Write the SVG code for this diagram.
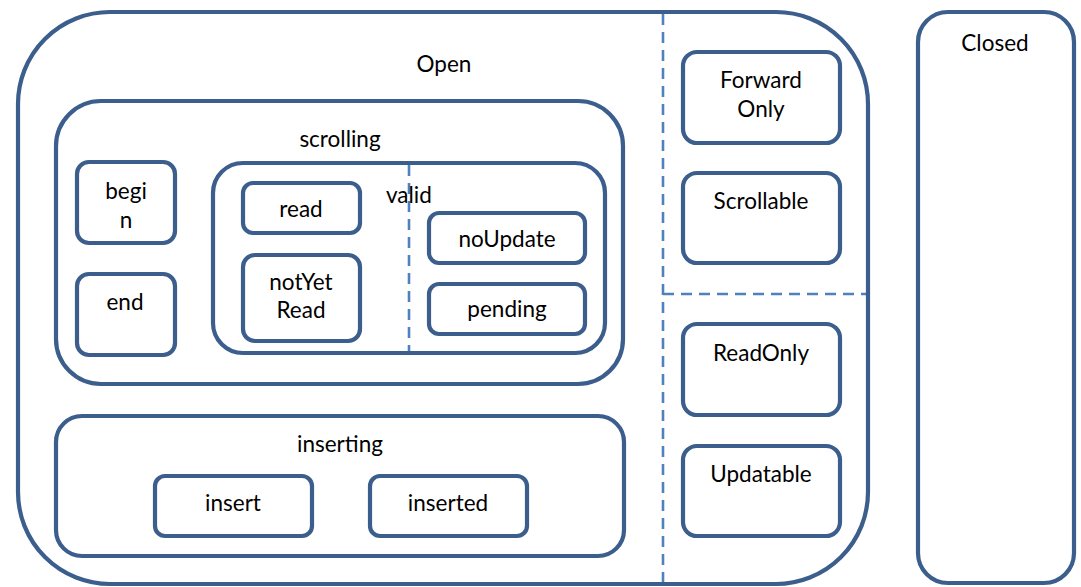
<svg xmlns="http://www.w3.org/2000/svg" width="1081" height="587" viewBox="0 0 1081 587">
  <style>
    .box { fill: none; stroke: #3B5E8C; stroke-width: 4.2; }
    .div { fill: none; stroke: #4F81BD; stroke-width: 2.6; stroke-dasharray: 11 7; }
    text { font-family: Lato, "Open Sans", "Liberation Sans", sans-serif; font-size: 22.5px; fill: #000; text-anchor: middle; }
  </style>
  <rect width="1081" height="587" fill="#fff"/>

  <!-- region dividers -->
  <g id="connectors">
    <line class="div" x1="663" y1="14" x2="663" y2="582"/>
    <line class="div" x1="663" y1="294" x2="866" y2="294"/>
    <line class="div" x1="409" y1="165" x2="409" y2="352"/>
  </g>

  <g id="open">
    <rect class="box" x="18" y="12" width="850" height="572" rx="92" ry="92"/>
    <text x="444" y="72">Open</text>
  </g>

  <g id="scrolling">
    <rect class="box" x="56" y="101" width="567" height="283" rx="45" ry="45"/>
    <text x="340" y="147">scrolling</text>
  </g>

  <g id="begin">
    <rect class="box" x="77" y="162" width="98" height="81" rx="12" ry="12"/>
    <text x="126" y="199">begi</text>
    <text x="126" y="228">n</text>
  </g>

  <g id="end">
    <rect class="box" x="77" y="274" width="98" height="81" rx="12" ry="12"/>
    <text x="125" y="310">end</text>
  </g>

  <g id="valid">
    <rect class="box" x="213" y="163" width="392" height="190" rx="30" ry="30"/>
    <text x="386" y="203" style="text-anchor:start">valid</text>
  </g>

  <g id="read">
    <rect class="box" x="243" y="183" width="117" height="50" rx="10" ry="10"/>
    <text x="301" y="217">read</text>
  </g>

  <g id="notYetRead">
    <rect class="box" x="243" y="255" width="117" height="86" rx="12" ry="12"/>
    <text x="301" y="290">notYet</text>
    <text x="301" y="318">Read</text>
  </g>

  <g id="noUpdate">
    <rect class="box" x="429" y="213" width="156" height="50" rx="10" ry="10"/>
    <text x="507" y="247">noUpdate</text>
  </g>

  <g id="pending">
    <rect class="box" x="429" y="284" width="156" height="50" rx="10" ry="10"/>
    <text x="507" y="317">pending</text>
  </g>

  <g id="inserting">
    <rect class="box" x="56" y="416" width="568" height="140" rx="26" ry="26"/>
    <text x="340" y="452">inserting</text>
  </g>

  <g id="insert">
    <rect class="box" x="155" y="476" width="157" height="60" rx="10" ry="10"/>
    <text x="233" y="511">insert</text>
  </g>

  <g id="inserted">
    <rect class="box" x="370" y="476" width="157" height="60" rx="10" ry="10"/>
    <text x="448" y="511">inserted</text>
  </g>

  <g id="forwardOnly">
    <rect class="box" x="683" y="52" width="157" height="91" rx="14" ry="14"/>
    <text x="761" y="88">Forward</text>
    <text x="761" y="117">Only</text>
  </g>

  <g id="scrollable">
    <rect class="box" x="683" y="173" width="157" height="90" rx="14" ry="14"/>
    <text x="761" y="209">Scrollable</text>
  </g>

  <g id="readOnly">
    <rect class="box" x="683" y="324" width="157" height="91" rx="14" ry="14"/>
    <text x="761" y="361">ReadOnly</text>
  </g>

  <g id="updatable">
    <rect class="box" x="683" y="446" width="157" height="90" rx="14" ry="14"/>
    <text x="761" y="482">Updatable</text>
  </g>

  <g id="closed">
    <rect class="box" x="918" y="12" width="156" height="571" rx="30" ry="30"/>
    <text x="995" y="51">Closed</text>
  </g>
</svg>
